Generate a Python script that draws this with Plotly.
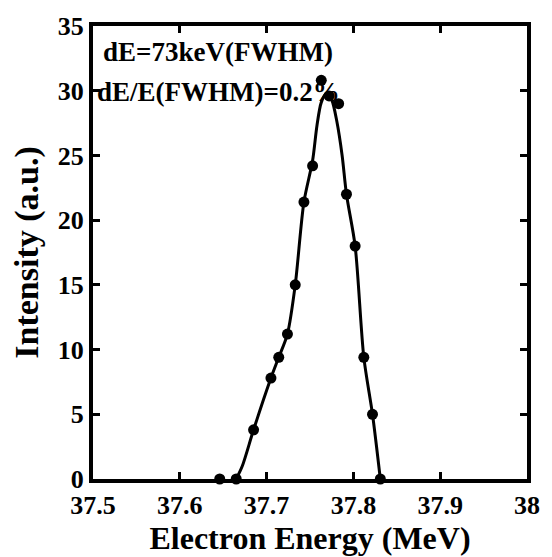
import plotly.graph_objects as go

# measured data points
energy = [37.646, 37.665, 37.685, 37.705, 37.714, 37.724, 37.733, 37.743, 37.753,
          37.763, 37.772, 37.783, 37.792, 37.802, 37.812, 37.822, 37.831]
intensity = [0, 0, 3.8, 7.8, 9.4, 11.2, 15, 21.4, 24.2,
             30.8, 29.6, 29.0, 22, 18, 9.4, 5, 0]

# fitted curve
fit_energy = [37.665, 37.672, 37.685, 37.705, 37.714, 37.724, 37.733, 37.743, 37.753,
              37.758, 37.763, 37.769, 37.775, 37.781, 37.787, 37.792, 37.802, 37.812,
              37.822, 37.831]
fit_intensity = [0, 1.0, 3.8, 7.8, 9.4, 11.2, 15, 21.4, 24.6,
                 27.3, 29.1, 29.8, 29.3, 27.6, 25.0, 22.0, 18, 9.4,
                 5, 0]

x_ticks = [37.5, 37.6, 37.7, 37.8, 37.9, 38]
x_tick_text = ["37.5", "37.6", "37.7", "37.8", "37.9", "38"]
y_ticks = [0, 5, 10, 15, 20, 25, 30, 35]

FONT = "Liberation Serif"

fig = go.Figure()
fig.add_trace(go.Scatter(
    x=fit_energy, y=fit_intensity, mode="lines",
    line=dict(color="black", width=3, shape="spline", smoothing=0.8),
    showlegend=False, hoverinfo="skip"))
fig.add_trace(go.Scatter(
    x=energy, y=intensity, mode="markers",
    marker=dict(color="black", size=11),
    showlegend=False, cliponaxis=False))

ann_font = dict(family=FONT, size=27, color="black", weight="bold")
fig.add_annotation(x=0, y=1, xref="paper", yref="paper", xanchor="left", yanchor="middle",
                   text="dE=73keV(FWHM)", showarrow=False,
                   xshift=8, yshift=-26, font=ann_font)
fig.add_annotation(x=0, y=1, xref="paper", yref="paper", xanchor="left", yanchor="middle",
                   text="dE/E(FWHM)=0.2%", showarrow=False,
                   xshift=2, yshift=-66, font=ann_font)

axis_common = dict(
    showline=True, linecolor="black", linewidth=4, mirror="allticks",
    ticks="inside", ticklen=7, tickwidth=3, tickcolor="black",
    showgrid=False, zeroline=False,
    tickfont=dict(family=FONT, size=26, color="black", weight="bold"),
)

fig.update_xaxes(range=[37.5, 38], tickvals=x_ticks, ticktext=x_tick_text,
                 title=dict(text="Electron Energy (MeV)",
                            font=dict(family=FONT, size=32, color="black", weight="bold"),
                            standoff=2),
                 **axis_common)
fig.update_yaxes(range=[0, 35], tickvals=y_ticks,
                 title=dict(text="Intensity (a.u.)",
                            font=dict(family=FONT, size=34, color="black", weight="bold"),
                            standoff=10),
                 **axis_common)

fig.update_layout(
    width=552, height=557,
    margin=dict(l=93, r=20, t=19, b=73),
    plot_bgcolor="white", paper_bgcolor="white",
    font=dict(family=FONT, color="black"),
)

fig.write_html("out.html", config={"displayModeBar": False},
               post_script="document.body.style.margin='0';")
